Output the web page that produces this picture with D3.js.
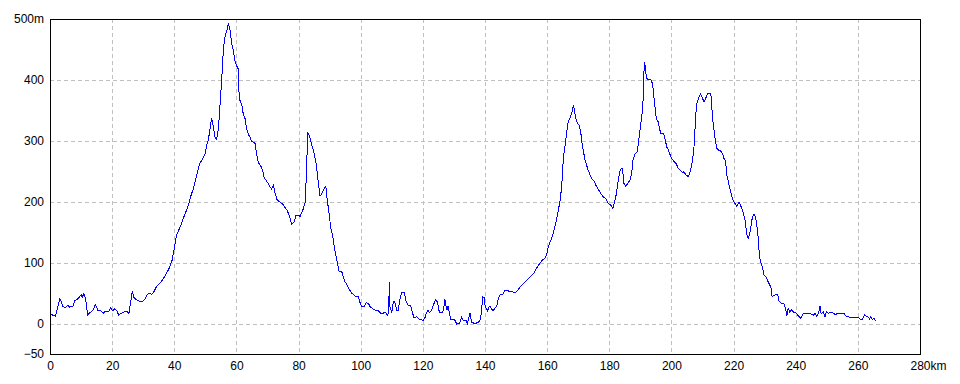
<!DOCTYPE html>
<html>
<head>
<meta charset="utf-8">
<script src="https://cdn.jsdelivr.net/npm/d3@7"></script>
<style>
  body { margin: 0; background: #fff; }
  svg { display: block; font-family: "Liberation Sans", Arial, sans-serif; }
</style>
</head>
<body>
<div id="chart"></div>
<script>
// distance along the route (km) and elevation (m)
const distKm = [
  0.0, 0.8, 1.7, 2.4, 3.1, 3.6, 4.1, 4.5, 5.2, 5.8, 6.3, 7.4, 7.9, 8.8, 9.5, 10.1, 10.4, 10.9, 11.4, 11.8,
  12.1, 12.7, 13.8, 14.6, 15.4, 16.3, 17.2, 17.8, 18.9, 19.5, 20.1, 20.8, 21.5, 22.1, 23.0, 23.8, 24.9, 25.4, 25.9, 26.5,
  27.0, 27.8, 28.9, 29.9, 30.7, 31.3, 32.0, 32.8, 33.4, 34.2, 35.3, 36.4, 37.4, 38.5, 39.3, 40.1, 40.7, 41.4, 42.3, 43.3,
  44.4, 45.3, 46.1, 47.2, 48.1, 49.1, 49.9, 50.4, 50.9, 51.5, 52.0, 52.6, 53.1, 53.6, 54.2, 54.7, 55.3, 55.8, 56.3, 56.9,
  57.4, 57.9, 58.5, 59.0, 59.5, 60.1, 60.6, 60.9, 61.7, 62.2, 62.8, 63.3, 63.8, 64.4, 64.9, 66.0, 66.5, 67.0, 67.8, 68.5,
  68.9, 69.7, 70.3, 70.8, 71.3, 71.9, 72.4, 73.0, 73.8, 74.9, 75.6, 76.4, 77.0, 77.8, 78.5, 79.2, 79.9, 80.5, 81.3, 82.1,
  82.6, 82.9, 83.5, 84.2, 85.0, 85.6, 86.0, 86.5, 86.9, 87.4, 88.0, 88.8, 89.2, 89.9, 90.3, 91.0, 91.5, 92.0, 92.5, 93.1,
  93.9, 94.4, 94.9, 95.7, 96.3, 97.1, 97.8, 98.5, 99.2, 99.8, 100.3, 101.1, 101.7, 102.5, 103.0, 104.1, 104.9, 105.7, 106.4, 107.3,
  107.8, 108.6, 109.0, 109.2, 109.4, 110.0, 110.3, 110.7, 111.1, 111.6, 112.1, 112.6, 113.2, 114.0, 114.6, 115.3, 116.1, 116.7, 117.2, 118.0,
  118.9, 119.6, 120.1, 120.7, 121.2, 121.6, 122.1, 122.8, 123.6, 124.1, 124.6, 125.0, 125.3, 126.4, 126.8, 127.1, 127.7, 128.1, 128.5, 129.0,
  129.8, 130.4, 130.9, 131.8, 132.5, 133.0, 133.9, 134.3, 135.2, 135.7, 136.8, 137.9, 138.6, 138.9, 139.3, 139.7, 140.1, 140.8, 141.4, 141.8,
  142.5, 143.2, 143.8, 144.3, 144.8, 145.7, 146.4, 147.2, 147.8, 148.9, 149.7, 150.4, 151.0, 151.8, 152.6, 153.4, 154.5, 155.6, 156.6, 157.7,
  158.6, 159.3, 159.9, 160.4, 161.2, 161.8, 162.5, 163.1, 163.6, 164.1, 164.7, 165.0, 165.4, 165.8, 166.3, 166.8, 167.3, 167.9, 168.4, 168.7,
  169.2, 169.7, 170.3, 170.8, 171.1, 171.6, 172.2, 172.7, 173.2, 173.8, 174.3, 175.1, 175.7, 176.5, 177.2, 178.1, 179.0, 179.7, 180.4, 181.1,
  181.6, 182.2, 182.6, 183.1, 183.5, 184.1, 184.4, 184.7, 185.3, 185.9, 186.7, 187.2, 187.7, 188.3, 189.0, 189.3, 189.9, 190.4, 190.8, 191.0,
  191.3, 191.6, 191.8, 192.2, 193.3, 193.7, 194.1, 194.4, 194.8, 195.2, 195.8, 196.1, 196.6, 197.5, 197.9, 198.5, 199.0, 199.5, 200.1, 200.8,
  201.5, 202.2, 203.0, 203.6, 204.0, 204.7, 205.5, 206.0, 206.5, 207.1, 207.4, 207.8, 208.1, 208.7, 209.4, 209.8, 210.5, 211.2, 211.6, 212.7,
  213.0, 213.3, 213.7, 214.1, 214.6, 215.1, 215.8, 216.5, 216.9, 217.4, 217.6, 217.9, 218.4, 218.6, 219.1, 219.5, 219.9, 220.5, 221.0, 221.6,
  221.9, 222.3, 222.7, 223.1, 223.4, 223.8, 224.2, 224.7, 225.2, 225.6, 226.0, 226.6, 227.0, 227.4, 227.8, 228.1, 228.3, 228.7, 228.9, 229.4,
  229.8, 230.5, 230.9, 231.5, 232.1, 232.4, 233.0, 233.7, 234.2, 234.7, 235.5, 236.2, 236.8, 237.1, 237.6, 238.1, 238.7, 239.4, 240.3, 240.9,
  241.6, 242.5, 243.8, 244.9, 245.7, 246.2, 246.8, 247.4, 247.8, 248.2, 248.9, 249.4, 249.9, 250.5, 251.3, 252.2, 252.7, 253.5, 254.5, 255.6,
  256.2, 257.1, 257.8, 258.7, 259.8, 260.4, 260.9, 261.5, 262.2, 262.7, 263.3, 263.8, 264.1, 264.7, 265.1, 265.5, 265.9
];
const elevM = [
  17, 14, 12, 25, 40, 37, 28, 27, 27, 30, 27, 28, 37, 40, 44, 47, 43, 50, 41, 28,
  14, 17, 22, 31, 22, 21, 17, 20, 20, 26, 21, 24, 21, 14, 17, 19, 19, 17, 33, 54,
  43, 39, 36, 37, 41, 48, 50, 48, 52, 60, 66, 73, 82, 92, 104, 126, 145, 153, 164, 178,
  192, 209, 221, 243, 262, 270, 278, 292, 300, 319, 337, 322, 306, 302, 319, 358, 404, 451, 470, 481,
  492, 484, 459, 448, 432, 423, 418, 369, 360, 344, 336, 319, 311, 306, 299, 296, 278, 265, 259, 251,
  240, 234, 229, 224, 221, 227, 215, 204, 200, 196, 191, 185, 177, 163, 166, 178, 178, 176, 185, 199,
  253, 315, 308, 294, 280, 264, 247, 225, 210, 212, 220, 225, 204, 178, 159, 143, 126, 112, 99, 85,
  85, 77, 69, 63, 56, 50, 47, 44, 44, 34, 28, 28, 34, 33, 28, 23, 22, 21, 17, 17,
  19, 14, 18, 68, 28, 17, 30, 37, 33, 21, 22, 39, 51, 51, 36, 30, 29, 17, 9, 11,
  7, 6, 5, 10, 18, 22, 18, 22, 33, 39, 36, 28, 18, 18, 29, 40, 22, 28, 18, 7,
  7, 5, -1, 0, 10, 5, 5, 0, 17, 2, 0, 2, 8, 23, 44, 43, 27, 21, 28, 27,
  21, 25, 29, 41, 47, 47, 55, 55, 52, 52, 50, 54, 58, 63, 67, 71, 76, 82, 91, 99,
  105, 107, 115, 126, 137, 145, 159, 173, 186, 200, 225, 255, 279, 293, 315, 331, 337, 345, 357, 353,
  337, 329, 326, 315, 301, 285, 268, 260, 252, 244, 238, 234, 227, 220, 214, 208, 204, 197, 195, 189,
  197, 211, 225, 241, 252, 255, 246, 230, 225, 230, 236, 247, 271, 278, 282, 293, 318, 340, 353, 394,
  430, 422, 410, 401, 401, 397, 386, 370, 351, 335, 331, 321, 312, 312, 304, 290, 285, 278, 271, 266,
  263, 255, 251, 248, 249, 244, 241, 249, 260, 280, 299, 340, 360, 370, 377, 372, 364, 372, 377, 377,
  356, 334, 318, 301, 288, 285, 284, 278, 271, 268, 257, 241, 233, 225, 216, 208, 202, 197, 192, 198,
  198, 193, 189, 182, 175, 167, 148, 140, 148, 159, 173, 180, 176, 165, 148, 129, 111, 101, 99, 89,
  80, 76, 71, 65, 58, 44, 46, 48, 47, 36, 33, 32, 23, 12, 25, 19, 23, 18, 17, 12,
  9, 17, 17, 16, 14, 17, 12, 18, 29, 16, 19, 11, 19, 17, 19, 17, 14, 17, 17, 16,
  12, 11, 9, 10, 10, 9, 7, 7, 14, 12, 11, 7, 11, 7, 9, 6, 4
];
const xTicks = [0, 20, 40, 60, 80, 100, 120, 140, 160, 180, 200, 220, 240, 260, 280];
const yTicks = [-50, 0, 100, 200, 300, 400, 500];
const xGridTicks = [20, 40, 60, 80, 100, 120, 140, 160, 180, 200, 220, 240, 260];
const yGridTicks = [0, 100, 200, 300, 400];

const width = 960;
const height = 384;
const plot = { left: 50, right: 920, top: 19, bottom: 354 };

const svg = d3
  .select("#chart")
  .append("svg")
  .attr("width", width)
  .attr("height", height);

const x = d3.scaleLinear().domain([0, 280]).range([plot.left, plot.right]);
const y = d3.scaleLinear().domain([-50, 500]).range([plot.bottom, plot.top]);

// dashed grid
svg
  .append("g")
  .selectAll("line")
  .data(xGridTicks)
  .join("line")
  .attr("x1", (d) => Math.round(x(d)) + 0.5)
  .attr("x2", (d) => Math.round(x(d)) + 0.5)
  .attr("y1", plot.top)
  .attr("y2", plot.bottom)
  .attr("stroke", "#c0c0c0")
  .attr("stroke-dasharray", "4,3")
  .attr("shape-rendering", "crispEdges");

svg
  .append("g")
  .selectAll("line")
  .data(yGridTicks)
  .join("line")
  .attr("x1", plot.left)
  .attr("x2", plot.right)
  .attr("y1", (d) => Math.round(y(d)) + 0.5)
  .attr("y2", (d) => Math.round(y(d)) + 0.5)
  .attr("stroke", "#c0c0c0")
  .attr("stroke-dasharray", "4,3")
  .attr("shape-rendering", "crispEdges");

// elevation profile
const points = distKm.map((d, i) => [d, elevM[i]]);
const line = d3
  .line()
  .x((d) => x(d[0]))
  .y((d) => y(d[1]));

svg
  .append("path")
  .datum(points)
  .attr("fill", "none")
  .attr("stroke", "#0000ff")
  .attr("stroke-width", 1)
  .attr("shape-rendering", "crispEdges")
  .attr("d", line);

// frame
svg
  .append("rect")
  .attr("x", plot.left + 0.5)
  .attr("y", plot.top + 0.5)
  .attr("width", plot.right - plot.left)
  .attr("height", plot.bottom - plot.top)
  .attr("fill", "none")
  .attr("stroke", "#000")
  .attr("shape-rendering", "crispEdges");

// axes (labels only, no tick marks)
const xAxis = svg
  .append("g")
  .attr("transform", "translate(0," + plot.bottom + ")")
  .call(d3.axisBottom(x).tickValues(xTicks).tickSize(0).tickPadding(7).tickFormat((d) => d));
xAxis.select(".domain").remove();
xAxis.selectAll("text").style("font-size", "12px").attr("fill", "#000");
xAxis
  .selectAll("text")
  .filter((d) => d === 280)
  .attr("text-anchor", "start")
  .attr("x", -10)
  .append("tspan")
  .text("km");

const yAxis = svg
  .append("g")
  .attr("transform", "translate(" + plot.left + ",0)")
  .call(
    d3
      .axisLeft(y)
      .tickValues(yTicks)
      .tickSize(0)
      .tickPadding(6)
      .tickFormat((d) => (d === 500 ? "500m" : d3.format("")(d)))
  );
yAxis.select(".domain").remove();
yAxis.selectAll("text").style("font-size", "12px").attr("fill", "#000");
</script>
</body>
</html>
